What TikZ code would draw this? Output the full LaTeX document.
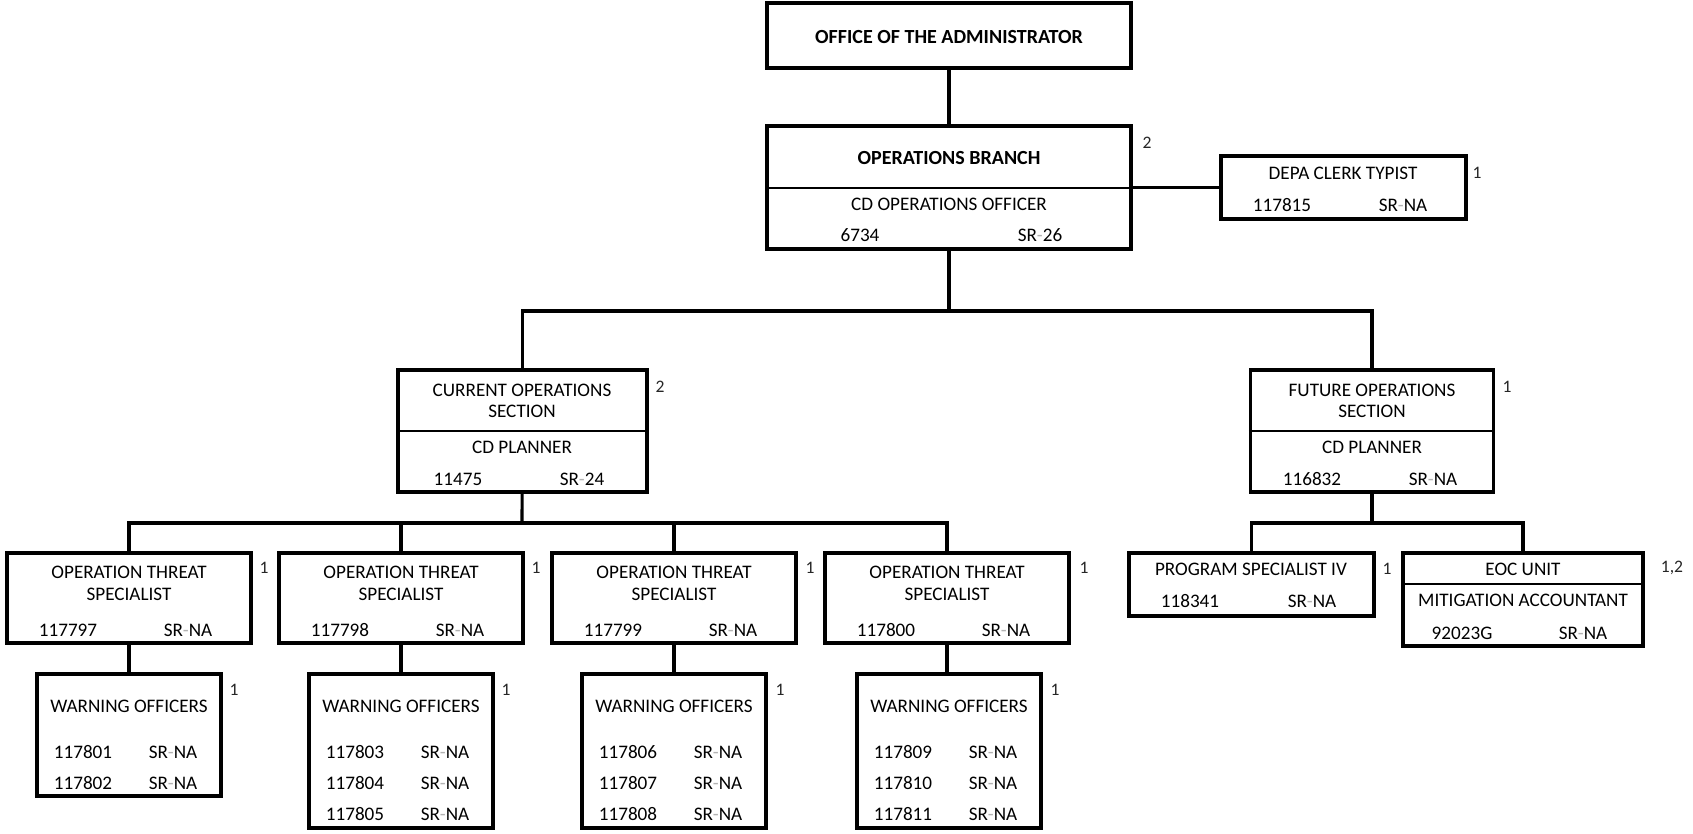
\documentclass[tikz,border=0pt]{standalone}
\usepackage{fontspec}
\setmainfont{Carlito}
\newcommand{\srg}[1]{SR{\color{black!30}-}#1}

\begin{document}
\begin{tikzpicture}[
    x=0.02cm, y=-0.02cm,
    font=\fontsize{10.9}{12.2}\selectfont,
    box/.style={draw, line width=1.8pt, inner sep=0pt},
    size/.style 2 args={minimum width=#1*0.02cm, minimum height=#2*0.02cm},
    txt/.style={inner sep=0pt, align=center},
    head/.style={txt, font=\fontsize{11.4}{12.2}\selectfont\bfseries},
    cnt/.style={inner sep=0pt, font=\fontsize{10}{11}\selectfont, text=black!85},
    link/.style={line width=1.8pt},
    rule/.style={line width=1pt}
]
\useasboundingbox (0,0) rectangle (1693,833);

% Administrator and branch
\node[box, size={364}{65}] (office) at (949,35.5) {};
\node[head] (officeT) at (949,37) {OFFICE OF THE ADMINISTRATOR};

\node[box, size={364}{123}] (ops) at (949,187.5) {};
\draw[rule] (ops.west |- 0,188) -- (ops.east |- 0,188);
\node[head] (opsT) at (949,158) {OPERATIONS BRANCH};
\node[txt] (opsP) at (949,204) {CD OPERATIONS OFFICER};
\node[txt] (opsN) at (860,235) {6734};
\node[txt] (opsG) at (1040,235) {\srg{26}};
\node[cnt] (opsC) at (1147,143) {2};

\node[box, size={245}{63}] (depa) at (1343.5,187.5) {};
\node[txt] (depaP) at (1343,173) {DEPA CLERK TYPIST};
\node[txt] (depaN) at (1282,205) {117815};
\node[txt] (depaG) at (1403,205) {\srg{NA}};
\node[cnt] (depaC) at (1477,173) {1};

\draw[link] (office) -- (ops);
\draw[link] (ops) -- (depa);

% Sections
\node[box, size={249}{122}] (cur) at (522.5,431) {};
\draw[rule] (cur.west |- 0,431) -- (cur.east |- 0,431);
\node[txt] (curT) at (522,401) {CURRENT OPERATIONS\\SECTION};
\node[txt] (curP) at (522,447) {CD PLANNER};
\node[txt] (curN) at (458,479) {11475};
\node[txt] (curG) at (582,479) {\srg{24}};
\node[cnt] (curC) at (660,387) {2};

\node[box, size={243}{122}] (fut) at (1372,431) {};
\draw[rule] (fut.west |- 0,431) -- (fut.east |- 0,431);
\node[txt] (futT) at (1372,401) {FUTURE OPERATIONS\\SECTION};
\node[txt] (futP) at (1372,447) {CD PLANNER};
\node[txt] (futN) at (1312,479) {116832};
\node[txt] (futG) at (1433,479) {\srg{NA}};
\node[cnt] (futC) at (1507,387) {1};

\coordinate (opsbus) at (949,311);
\draw[link] (ops) -- (opsbus);
\draw[link] (cur.north) |- (opsbus) -| (fut.north);

% Operation threat specialists
\node[box, size={244}{90}] (ots1) at (129,598) {};
\node[txt] (ots1T) at (129,583.5) {OPERATION THREAT\\SPECIALIST};
\node[txt] (ots1N) at (68,630) {117797};
\node[txt] (ots1G) at (188,630) {\srg{NA}};
\node[cnt] (ots1C) at (264,568) {1};

\node[box, size={244}{90}] (ots2) at (401,598) {};
\node[txt] (ots2T) at (401,583.5) {OPERATION THREAT\\SPECIALIST};
\node[txt] (ots2N) at (340,630) {117798};
\node[txt] (ots2G) at (460,630) {\srg{NA}};
\node[cnt] (ots2C) at (536,568) {1};

\node[box, size={244}{90}] (ots3) at (674,598) {};
\node[txt] (ots3T) at (674,583.5) {OPERATION THREAT\\SPECIALIST};
\node[txt] (ots3N) at (613,630) {117799};
\node[txt] (ots3G) at (733,630) {\srg{NA}};
\node[cnt] (ots3C) at (810,568) {1};

\node[box, size={244}{90}] (ots4) at (947,598) {};
\node[txt] (ots4T) at (947,583.5) {OPERATION THREAT\\SPECIALIST};
\node[txt] (ots4N) at (886,630) {117800};
\node[txt] (ots4G) at (1006,630) {\srg{NA}};
\node[cnt] (ots4C) at (1084,568) {1};

\coordinate (curbus) at (522,523);
\draw[link] (cur) -- (curbus);
\draw[link] (ots1.north) |- (curbus) -| (ots4.north);
\draw[link] (ots2.north) -- (ots2.north |- curbus);
\draw[link] (ots3.north) -- (ots3.north |- curbus);

% Warning officers
\node[box, size={184}{122}] (wo1) at (129,735) {};
\node[txt] (wo1T) at (129,706) {WARNING OFFICERS};
\foreach \n [count=\i] in {117801,117802} {
  \node[txt] (wo1n\i) at (83,{752+31*(\i-1)}) {\n};
  \node[txt] (wo1g\i) at (173,{752+31*(\i-1)}) {\srg{NA}};
}
\node[cnt] (wo1C) at (234,690) {1};

\node[box, size={184}{154}] (wo2) at (401,751) {};
\node[txt] (wo2T) at (401,706) {WARNING OFFICERS};
\foreach \n [count=\i] in {117803,117804,117805} {
  \node[txt] (wo2n\i) at (355,{752+31*(\i-1)}) {\n};
  \node[txt] (wo2g\i) at (445,{752+31*(\i-1)}) {\srg{NA}};
}
\node[cnt] (wo2C) at (506,690) {1};

\node[box, size={184}{154}] (wo3) at (674,751) {};
\node[txt] (wo3T) at (674,706) {WARNING OFFICERS};
\foreach \n [count=\i] in {117806,117807,117808} {
  \node[txt] (wo3n\i) at (628,{752+31*(\i-1)}) {\n};
  \node[txt] (wo3g\i) at (718,{752+31*(\i-1)}) {\srg{NA}};
}
\node[cnt] (wo3C) at (780,690) {1};

\node[box, size={184}{154}] (wo4) at (949,751) {};
\node[txt] (wo4T) at (949,706) {WARNING OFFICERS};
\foreach \n [count=\i] in {117809,117810,117811} {
  \node[txt] (wo4n\i) at (903,{752+31*(\i-1)}) {\n};
  \node[txt] (wo4g\i) at (993,{752+31*(\i-1)}) {\srg{NA}};
}
\node[cnt] (wo4C) at (1055,690) {1};

\draw[link] (ots1) -- (ots1 |- wo1.north);
\draw[link] (ots2) -- (wo2);
\draw[link] (ots3) -- (wo3);
\draw[link] (ots4.south) -- (ots4.south |- wo4.north);

% Future operations units
\node[box, size={245}{63}] (psiv) at (1251.5,584.5) {};
\node[txt] (psivP) at (1251,569) {PROGRAM SPECIALIST IV};
\node[txt] (psivN) at (1190,601) {118341};
\node[txt] (psivG) at (1312,601) {\srg{NA}};
\node[cnt] (psivC) at (1387,569) {1};

\node[box, size={240}{93}] (eoc) at (1523,599.5) {};
\draw[rule] (eoc.west |- 0,584) -- (eoc.east |- 0,584);
\node[txt] (eocT) at (1523,569) {EOC UNIT};
\node[txt] (eocP) at (1523,600) {MITIGATION ACCOUNTANT};
\node[txt] (eocN) at (1462,633) {92023G};
\node[txt] (eocG) at (1583,633) {\srg{NA}};
\node[cnt] (eocC) at (1672,568) {1,2};

\coordinate (futbus) at (1372,523);
\draw[link] (fut) -- (futbus);
\draw[link] (psiv.north) |- (futbus) -| (eoc.north);

\end{tikzpicture}
\end{document}
